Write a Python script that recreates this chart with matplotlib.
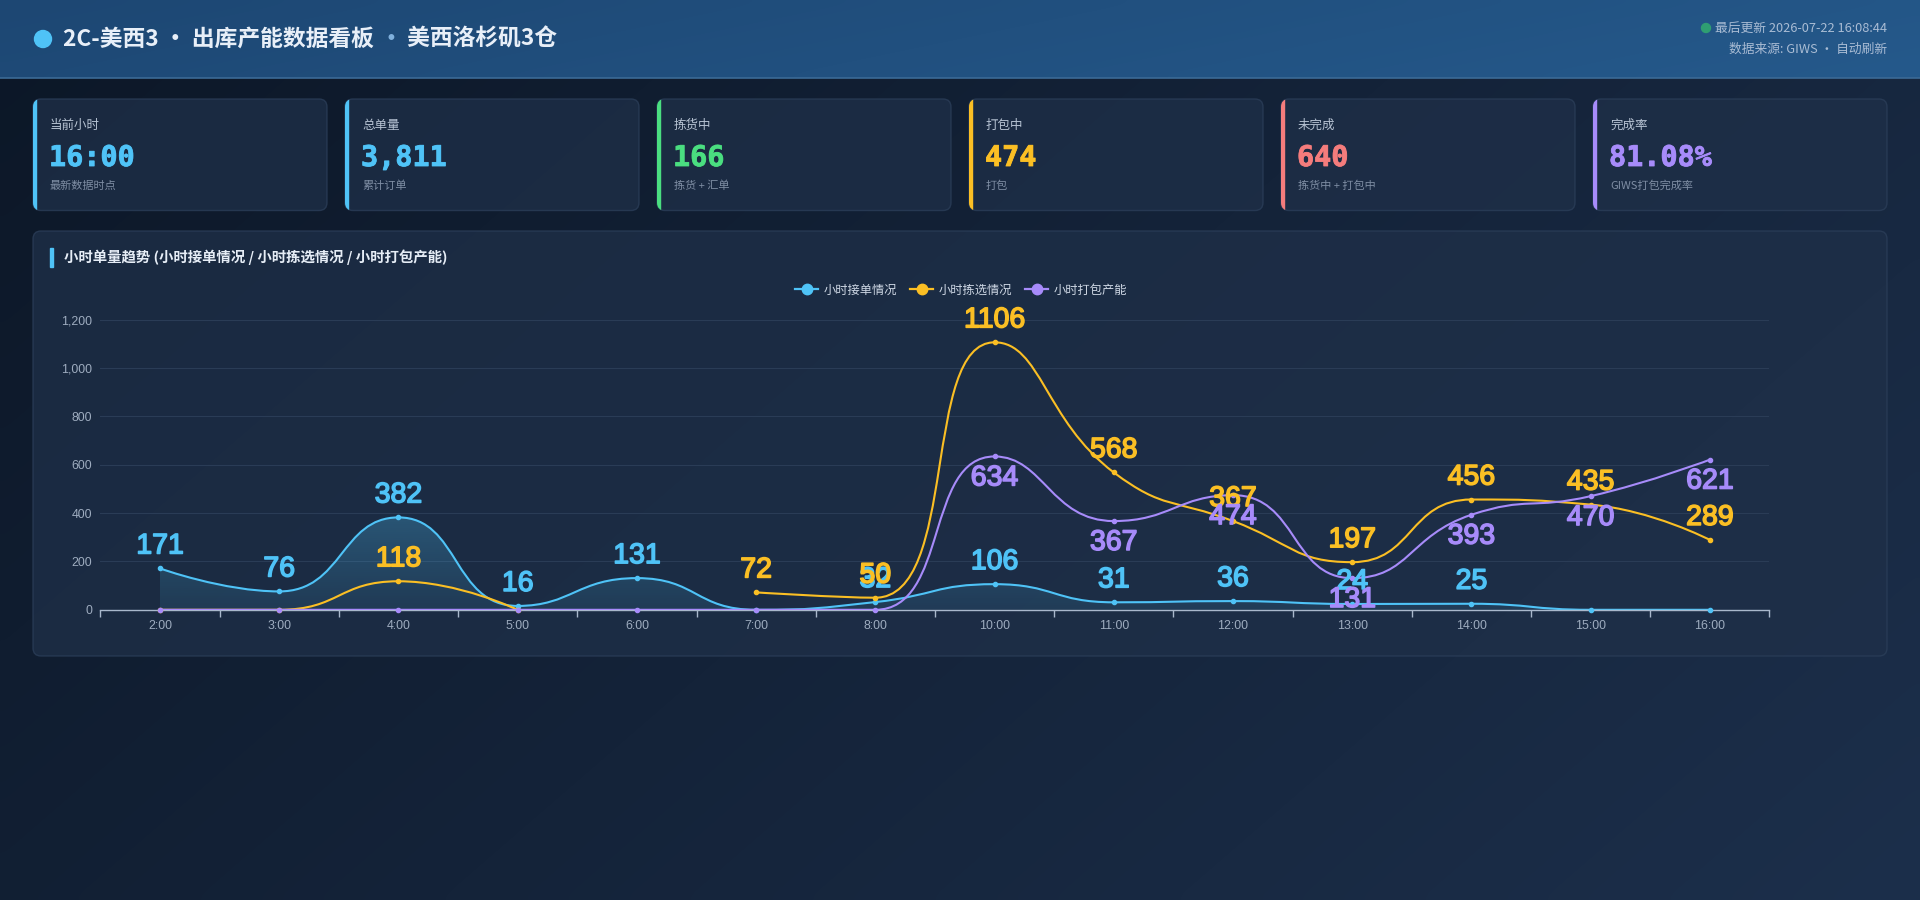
import numpy as np
import matplotlib
matplotlib.use('Agg')
import matplotlib.pyplot as plt
import matplotlib.patheffects as pe
from matplotlib.path import Path
from matplotlib.patches import PathPatch, FancyBboxPatch, Rectangle, Circle
from matplotlib.lines import Line2D
from matplotlib.font_manager import FontProperties
from matplotlib.colors import to_rgb

plt.rcParams['font.family'] = ['Noto Sans CJK SC', 'DejaVu Sans']

# ---------------- data ----------------
hours = ['2:00', '3:00', '4:00', '5:00', '6:00', '7:00', '8:00',
         '10:00', '11:00', '12:00', '13:00', '14:00', '15:00', '16:00']
orders_received = [171, 76, 382, 16, 131, 0, 32, 106, 31, 36, 24, 25, 0, 0]
picking = [0, 0, 118, 0, None, 72, 50, 1106, 568, 367, 197, 456, 435, 289]
packing = [0, 0, 0, 0, 0, 0, 0, 634, 367, 474, 131, 393, 470, 621]
series_names = ['小时接单情况', '小时拣选情况', '小时打包产能']

kpi_titles = ['当前小时', '总单量', '拣货中', '打包中', '未完成', '完成率']
kpi_values = ['16:00', '3,811', '166', '474', '640', '81.08%']
kpi_subs = ['最新数据时点', '累计订单', '拣货 + 汇单', '打包', '拣货中 + 打包中', 'GIWS打包完成率']

title_parts = ['2C-美西3 · 出库产能数据看板 ', '·', ' 美西洛杉矶3仓']
update_text = '最后更新 2026-07-22 16:08:44'
source_text = '数据来源: GIWS · 自动刷新'
chart_title = '小时单量趋势 (小时接单情况 / 小时拣选情况 / 小时打包产能)'

# ---------------- style ----------------
BLUE, GREEN, YELLOW, RED, PURPLE = '#4fc3f7', '#4ade80', '#fbbf24', '#f47c7c', '#a78bfa'
kpi_colors = [BLUE, BLUE, GREEN, YELLOW, RED, PURPLE]
series_colors = [BLUE, YELLOW, PURPLE]
CJK = ['Noto Sans CJK SC', 'DejaVu Sans']
NUM = ['Liberation Sans', 'DejaVu Sans']

W, H = 1920, 900
fig = plt.figure(figsize=(W / 100, H / 100), dpi=100)

bg = fig.add_axes([0, 0, 1, 1])
bg.set_xlim(0, W)
bg.set_ylim(H, 0)
bg.axis('off')
bg.set_zorder(0)


def lerp_colors(c0, c1, t):
    a = np.array(to_rgb(c0)); b = np.array(to_rgb(c1))
    return a[None, None, :] * (1 - t[..., None]) + b[None, None, :] * t[..., None]


# page background gradient
gx, gy = np.meshgrid(np.linspace(0, 1, 200), np.linspace(0, 1, 100))
t = np.clip(0.65 * gx + 0.35 * gy, 0, 1)
bg.imshow(lerp_colors('#0c1727', '#1c2f4b', t), extent=(0, W, H, 0), aspect='auto',
          interpolation='bicubic', zorder=0)

# header
HEADER_H = 78
hx, hy = np.meshgrid(np.linspace(0, 1, 200), np.linspace(0, 1, 10))
bg.imshow(lerp_colors('#1d4773', '#25598b', np.clip(0.85 * hx + 0.15 * hy, 0, 1)),
          extent=(0, W, HEADER_H, 0), aspect='auto', interpolation='bicubic', zorder=1)
bg.plot([0, W], [HEADER_H, HEADER_H], color='#3b6a96', lw=1.2, zorder=2)

bg.add_patch(Circle((43, 39), 8.5, color=BLUE, zorder=3))
renderer = fig.canvas.get_renderer()
tx = 63
for k, part in enumerate(title_parts):
    col = '#7fb0dc' if k == 1 else '#e8eff8'
    tt = bg.text(tx, 39, part, fontsize=16.4, fontweight='bold', color=col, family=CJK,
                 ha='left', va='center', zorder=3)
    tx = tt.get_window_extent(renderer).x1

bg.text(1887, 28, update_text, fontsize=9.2, color='#a9bcd4', family=CJK,
        ha='right', va='center', zorder=3)
upd = bg.texts[-1].get_window_extent(renderer)
bg.add_patch(Circle((upd.x0 - 9, 28), 4.5, color='#2f9e72', zorder=3))
bg.text(1887, 49, source_text, fontsize=9.2, color='#a9bcd4', family=CJK,
        ha='right', va='center', zorder=3)

# KPI cards
CARD_Y, CARD_H, CARD_W, CARD_X0, CARD_STEP = 99, 111.5, 294, 33, 312
for i in range(6):
    x0 = CARD_X0 + i * CARD_STEP
    card = FancyBboxPatch((x0, CARD_Y), CARD_W, CARD_H, boxstyle='round,pad=0,rounding_size=8',
                          facecolor='#1f3049', edgecolor='#2c3f5a', lw=1.0, alpha=0.75, zorder=2)
    bg.add_patch(card)
    acc = Rectangle((x0 - 1, CARD_Y - 1), 4, CARD_H + 2, color=kpi_colors[i], zorder=3)
    bg.add_patch(acc)
    acc.set_clip_path(card)
    bg.text(x0 + 17, 125, kpi_titles[i], fontsize=9, color='#b7c3d3', family=CJK,
            ha='left', va='center', zorder=3)
    bg.text(x0 + 16, 158, kpi_values[i], fontsize=20.5, fontweight='bold', color=kpi_colors[i],
            family=['DejaVu Sans Mono'], ha='left', va='center', zorder=3,
            path_effects=[pe.withStroke(linewidth=0.6, foreground=kpi_colors[i])])
    bg.text(x0 + 17, 186, kpi_subs[i], fontsize=8, color='#7f8ea4', family=CJK,
            ha='left', va='center', zorder=3)

# chart panel
panel = FancyBboxPatch((33, 231), 1854, 425, boxstyle='round,pad=0,rounding_size=8',
                       facecolor='#1f3049', edgecolor='#2c3f5a', lw=1.0, alpha=0.75, zorder=2)
bg.add_patch(panel)
bg.add_patch(Rectangle((50, 248), 3, 19, color=BLUE, zorder=3))
bg.text(64, 257.5, chart_title, fontsize=10.4, fontweight='bold', color='#e6edf6', family=CJK,
        ha='left', va='center', zorder=3)

# ---------------- chart axes ----------------
AX_L, AX_R, AX_B, AX_T = 100.4, 1769.5, 609.8, 319.6
ax = fig.add_axes([AX_L / W, 1 - AX_B / H, (AX_R - AX_L) / W, (AX_B - AX_T) / H])
ax.set_facecolor('none')
ax.set_zorder(2)
n = len(hours)
ax.set_xlim(-0.5, n - 0.5)
ax.set_ylim(0, 1200)
for s in ['top', 'right', 'left']:
    ax.spines[s].set_visible(False)
ax.spines['bottom'].set_color('#a9b8cc')
ax.spines['bottom'].set_linewidth(1.0)
ax.spines['bottom'].set_zorder(3)
ax.set_yticks(np.arange(0, 1201, 200))
ax.set_yticklabels([f'{v:,}' for v in range(0, 1201, 200)])
ax.tick_params(axis='y', length=0, pad=6, labelsize=8.9, labelcolor='#9eacbf')
ax.set_xticks(np.arange(-0.5, n, 1))
ax.set_xticklabels([''] * (n + 1))
ax.set_xticks(np.arange(n), minor=True)
ax.set_xticklabels(hours, minor=True)
ax.tick_params(axis='x', which='major', length=5, width=1, color='#a9b8cc', direction='out')
ax.tick_params(axis='x', which='minor', length=0, pad=7, labelsize=8.9, labelcolor='#9eacbf')
for lab in ax.get_xticklabels(minor=True) + ax.get_yticklabels():
    lab.set_family(NUM)
ax.grid(axis='y', color='#2a3c56', lw=0.8)
ax.set_axisbelow(True)


def echarts_segments(vals):
    segs, cur = [], []
    for i, v in enumerate(vals):
        if v is None:
            if cur:
                segs.append(cur)
            cur = []
        else:
            cur.append((i, v))
    if cur:
        segs.append(cur)
    return segs


def smooth_path(pts, smooth=0.5):
    d = ax.transData.transform(np.array(pts, dtype=float))
    px, py = d[:, 0], d[:, 1]
    verts = [(px[0], py[0])]
    codes = [Path.MOVETO]
    cpx0, cpy0 = px[0], py[0]
    prevx, prevy = px[0], py[0]
    m = len(px)
    for i in range(1, m):
        x, y = px[i], py[i]
        if i == m - 1:
            cpx1, cpy1 = x, y
            ncx, ncy = x, y
        else:
            nx, ny = px[i + 1], py[i + 1]
            vx, vy = nx - prevx, ny - prevy
            lp = np.hypot(x - prevx, y - prevy)
            ln = np.hypot(nx - x, ny - y)
            r = ln / (ln + lp)
            ncx = x + vx * smooth * r
            ncy = y + vy * smooth * r
            ncx = min(ncx, max(nx, x)); ncy = min(ncy, max(ny, y))
            ncx = max(ncx, min(nx, x)); ncy = max(ncy, min(ny, y))
            vx, vy = ncx - x, ncy - y
            cpx1 = x - vx * lp / ln
            cpy1 = y - vy * lp / ln
            cpx1 = min(cpx1, max(prevx, x)); cpy1 = min(cpy1, max(prevy, y))
            cpx1 = max(cpx1, min(prevx, x)); cpy1 = max(cpy1, min(prevy, y))
            vx, vy = x - cpx1, y - cpy1
            ncx = x + vx * ln / lp
            ncy = y + vy * ln / lp
        verts += [(cpx0, cpy0), (cpx1, cpy1), (x, y)]
        codes += [Path.CURVE4] * 3
        cpx0, cpy0 = ncx, ncy
        prevx, prevy = x, y
    vd = ax.transData.inverted().transform(np.array(verts))
    return vd, codes


all_series = [orders_received, picking, packing]
for si, (vals, col) in enumerate(zip(all_series, series_colors)):
    for seg in echarts_segments(vals):
        vd, codes = smooth_path(seg)
        if si == 0:
            # gradient area under the blue line
            area_v = np.vstack([vd, [[seg[-1][0], 0], [seg[0][0], 0], vd[0]]])
            area_c = codes + [Path.LINETO, Path.LINETO, Path.CLOSEPOLY]
            area = PathPatch(Path(area_v, area_c), facecolor='none', edgecolor='none')
            ax.add_patch(area)
            vmax = max(v for v in vals if v is not None)
            grad = np.zeros((100, 2, 4))
            grad[..., :3] = to_rgb(col)
            grad[..., 3] = np.linspace(0.28, 0.10, 100)[:, None]
            im = ax.imshow(grad, extent=(-0.5, n - 0.5, 0, vmax), origin='upper',
                           aspect='auto', zorder=1, interpolation='bilinear')
            im.set_clip_path(area)
        ax.add_patch(PathPatch(Path(vd, codes), facecolor='none', edgecolor=col,
                               lw=1.5, zorder=3 + si, capstyle='round', joinstyle='round'))
        xs = [p[0] for p in seg]
        ys = [p[1] for p in seg]
        ax.plot(xs, ys, 'o', color=col, ms=3.0, zorder=3.5 + si, clip_on=False)
ax.set_ylim(0, 1200)
ax.set_xlim(-0.5, n - 0.5)

# value labels (top for first two series, bottom for packing)
offsets = [15.8, 15.8, -15.8]
for si, (vals, col) in enumerate(zip(all_series, series_colors)):
    for i, v in enumerate(vals):
        if v is None or v == 0:
            continue
        ax.annotate(str(v), (i, v), xytext=(0, offsets[si]), textcoords='offset points',
                    ha='center', va='center', fontsize=20.5, color=col, family=NUM,
                    zorder=10 + si, annotation_clip=False,
                    path_effects=[pe.withStroke(linewidth=1.1, foreground=col)])

# legend
handles = [Line2D([], [], color=c, lw=1.6, marker='o', ms=7.5) for c in series_colors]
leg = fig.legend(handles, series_names, loc='center', bbox_to_anchor=(961 / W, 1 - 290 / H),
                 ncol=3, frameon=False, prop=FontProperties(family=CJK, size=8.8),
                 labelcolor='#d0d9e6', handlelength=1.9, handletextpad=0.4, columnspacing=1.1)

fig.savefig('out.png', dpi=100, facecolor='#0f1b2d')
